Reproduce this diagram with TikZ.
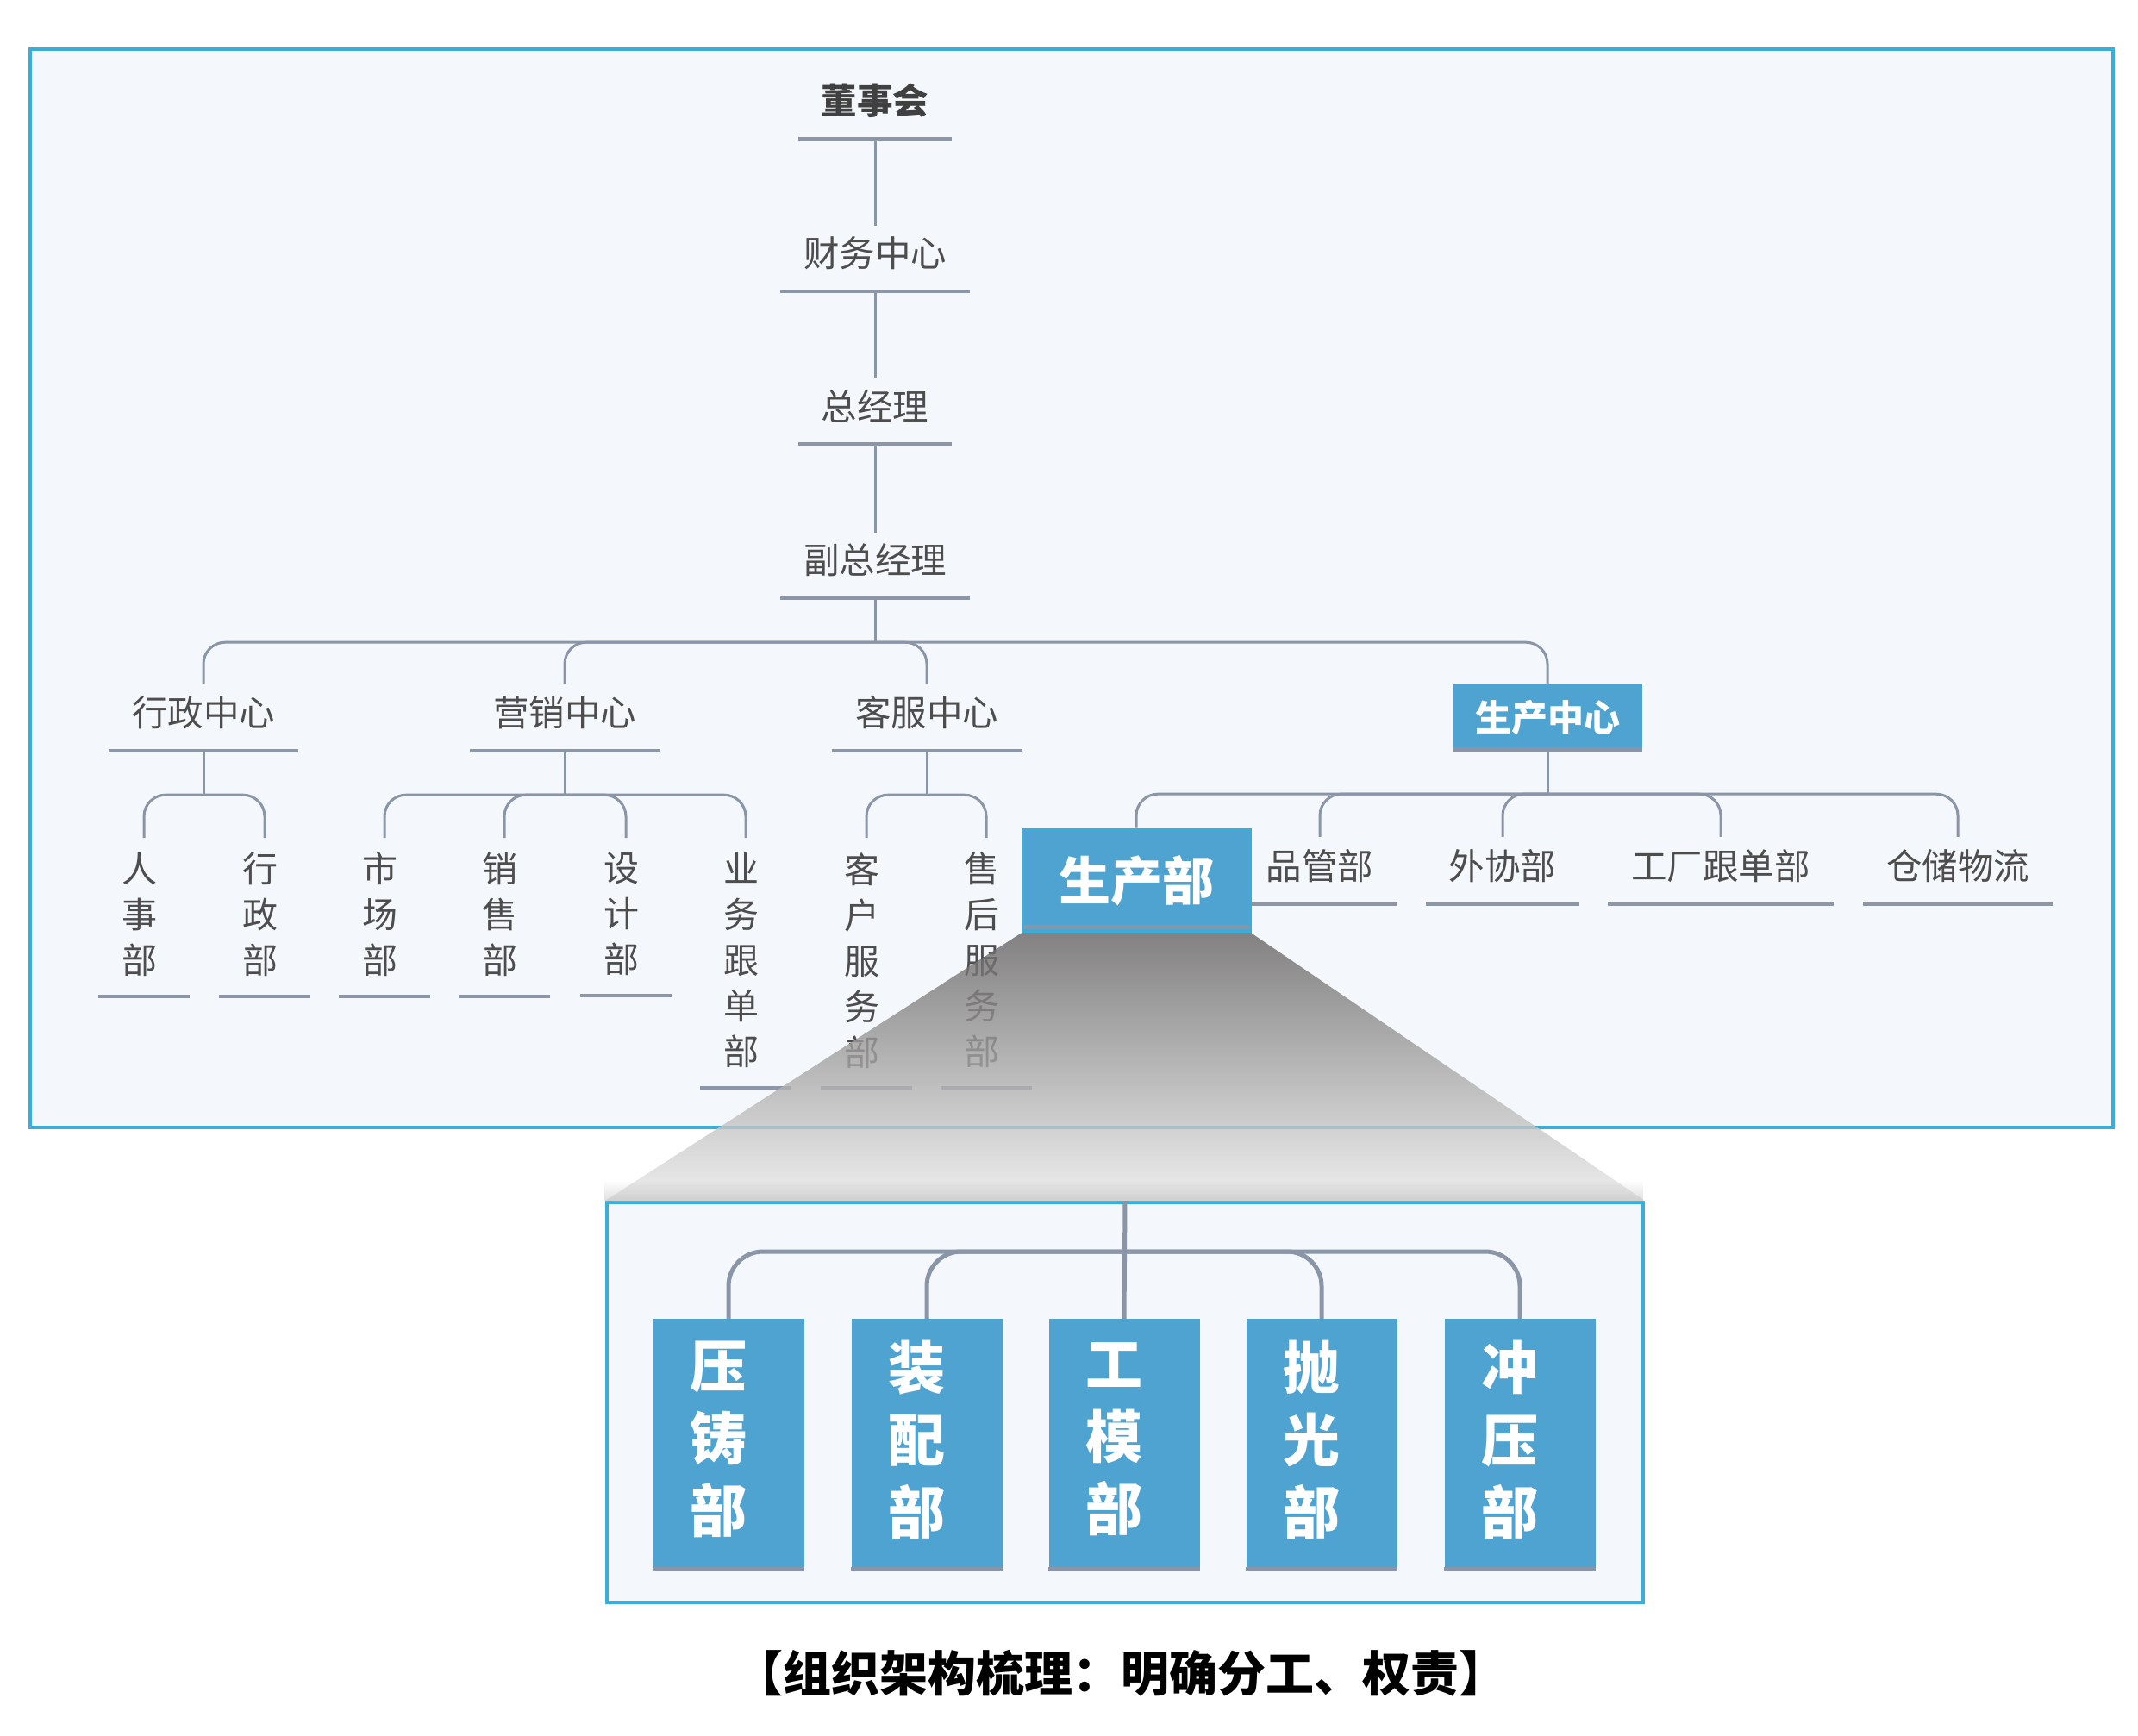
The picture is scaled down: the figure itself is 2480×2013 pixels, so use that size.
\documentclass[tikz,border=0pt]{standalone}
\usepackage{fontspec}
\setmainfont{Noto Sans CJK SC}
\usetikzlibrary{calc,fadings}
\definecolor{framec}{HTML}{38AED8}
\definecolor{panelc}{HTML}{F4F8FC}
\definecolor{wirec}{HTML}{8A95A7}
\definecolor{ulc}{HTML}{8C96A7}
\definecolor{txtc}{HTML}{4D4D4D}
\definecolor{bluc}{HTML}{4FA3D0}
\definecolor{funtop}{HTML}{676463}
\definecolor{funbot}{HTML}{EAEAEA}
\newcommand{\fsz}[2]{\fontsize{#1pt}{#2pt}\selectfont}
\tikzset{
  wire/.style={draw=wirec, line width=3pt, rounded corners=25pt},
  wirebig/.style={draw=wirec, line width=5pt, rounded corners=40pt},
  ulline/.style={draw=ulc, line width=4pt},
  hz/.style={font=\fsz{41.5}{50}, text=txtc, inner xsep=27pt, inner ysep=0pt, minimum height=88pt,
    append after command={(\tikzlastnode.south west) edge[ulline] (\tikzlastnode.south east)}},
  vt/.style={font=\fsz{41}{53}, text=txtc, align=center, inner sep=0pt, anchor=north, minimum width=106pt,
    append after command={([xshift=5pt,yshift=-23pt]\tikzlastnode.south west) edge[ulline] ([xshift=5pt,yshift=-23pt]\tikzlastnode.south east)}},
  bluebox/.style={fill=bluc, text=white, inner sep=0pt},
  strip/.style={draw=wirec, line width=5pt},
  lowtxt/.style={font=\fsz{66}{84}\bfseries, text=white, align=center, inner sep=0pt},
}
\begin{document}
\begin{tikzpicture}[x=1pt,y=-1pt]
\useasboundingbox (0,0) rectangle (2480,2013);
\fill[white] (0,0) rectangle (2480,2013);
% outer panel
\draw[framec, line width=4pt, fill=panelc] (35,57) rectangle (2451,1308);
% top chain
\node[hz, font=\fsz{41.5}{50}\bfseries, text=black!75] (dsh) at (1015,117) {董事会};
\node[hz] (cw) at (1015,294) {财务中心};
\node[hz] (zjl) at (1015,471) {总经理};
\node[hz] (fzjl) at (1015,650) {副总经理};
\draw[wire] (dsh.south) -- ([yshift=-12pt]cw.north);
\draw[wire] (cw.south) -- ([yshift=-12pt]zjl.north);
\draw[wire] (zjl.south) -- ([yshift=-12pt]fzjl.north);
% level 2
\node[hz] (xz) at (236,827) {行政中心};
\node[hz] (yx) at (655,827) {营销中心};
\node[hz] (kf) at (1075,827) {客服中心};
\node[bluebox, font=\fsz{42}{50}\bfseries, minimum width=220pt, minimum height=78pt] (sc) at (1795,833) {生产中心};
\draw[strip] ([yshift=2.5pt]sc.south west) -- ([yshift=2.5pt]sc.south east);
\draw[wire] (fzjl.south) -- ++(0,51);
\foreach \c in {xz,yx,kf} \draw[wire] (fzjl.south) ++(0,51) -| ([yshift=-10pt]\c.north);
\draw[wire] (fzjl.south) ++(0,51) -| (sc.north);
% level 3 vertical
\node[vt] (rs) at (162,989) {人\\事\\部};
\node[vt] (xzb) at (302,989) {行\\政\\部};
\node[vt] (sch) at (441,989) {市\\场\\部};
\node[vt] (xs) at (580,989) {销\\售\\部};
\node[vt] (sj) at (721,989) {设\\计\\部};
\node[vt] (yw) at (860,989) {业\\务\\跟\\单\\部};
\node[vt] (kh) at (1000,989) {客\\户\\服\\务\\部};
\node[vt] (sh) at (1139,989) {售\\后\\服\\务\\部};
\draw[wire] (xz.south) -- ++(0,51);
\foreach \c in {rs,xzb} \draw[wire] (xz.south) ++(0,51) -| ([xshift=5pt,yshift=17pt]\c.north);
\draw[wire] (yx.south) -- ++(0,51);
\foreach \c in {sch,xs,sj,yw} \draw[wire] (yx.south) ++(0,51) -| ([xshift=5pt,yshift=17pt]\c.north);
\draw[wire] (kf.south) -- ++(0,51);
\foreach \c in {kh,sh} \draw[wire] (kf.south) ++(0,51) -| ([xshift=5pt,yshift=17pt]\c.north);
% production children
\node[hz] (pg) at (1531,1005) {品管部};
\node[hz] (wx) at (1743,1005) {外协部};
\node[hz] (gc) at (1996,1005) {工厂跟单部};
\node[hz] (cc) at (2271,1005) {仓储物流};
\node[bluebox, draw=framec, line width=3pt, font=\fsz{60}{70}\bfseries, minimum width=264pt, minimum height=119pt] (scb) at (1318,1021.5) {生产部};
\draw[strip] ([xshift=3pt,yshift=7pt]scb.south west) -- ([xshift=-3pt,yshift=7pt]scb.south east);
\draw[wire] (sc.south) -- ++(0,49);
\foreach \c in {pg,wx,gc,cc} \draw[wire] (sc.south) ++(0,49) -| ([yshift=-10pt]\c.north);
\draw[wire] (sc.south) ++(0,49) -| (scb.north);
% lower panel
\node[draw=framec, line width=4pt, fill=panelc, minimum width=1202pt, minimum height=464pt, inner sep=0pt] (low) at (1305,1627) {};
% funnel
\shade[top color=funtop, bottom color=funbot, fill opacity=0.8] (scb.south west) -- (scb.south east) -- (low.north east) -- (low.north west) -- cycle;
\fill[black, opacity=0.12, path fading=north] ([yshift=24pt]low.north west) rectangle (low.north east);
% lower boxes
\foreach \n/\x/\t in {d1/845/{压\\铸\\部}, d2/1075/{装\\配\\部}, d3/1304/{工\\模\\部}, d4/1533/{抛\\光\\部}, d5/1763/{冲\\压\\部}}{
  \node[bluebox, minimum width=175pt, minimum height=293pt] (\n) at (\x,1676.5) {};
  \draw[strip] ([yshift=2.5pt]\n.south west) -- ([yshift=2.5pt]\n.south east);
  \node[lowtxt] (\n t) at ([xshift=-12pt,yshift=6.5pt]\n.center) {\t};
}
\draw[wirebig] (low.north) -- (d3.north);
\foreach \c in {d1,d2,d4,d5} \draw[wirebig] (low.north) ++(0,59) -| (\c.north);
% caption
\node[font=\fsz{56}{62}\bfseries, text=black, inner sep=0pt] (cap) at (1300,1941) {【组织架构梳理：明确分工、权责】};
\end{tikzpicture}
\end{document}
